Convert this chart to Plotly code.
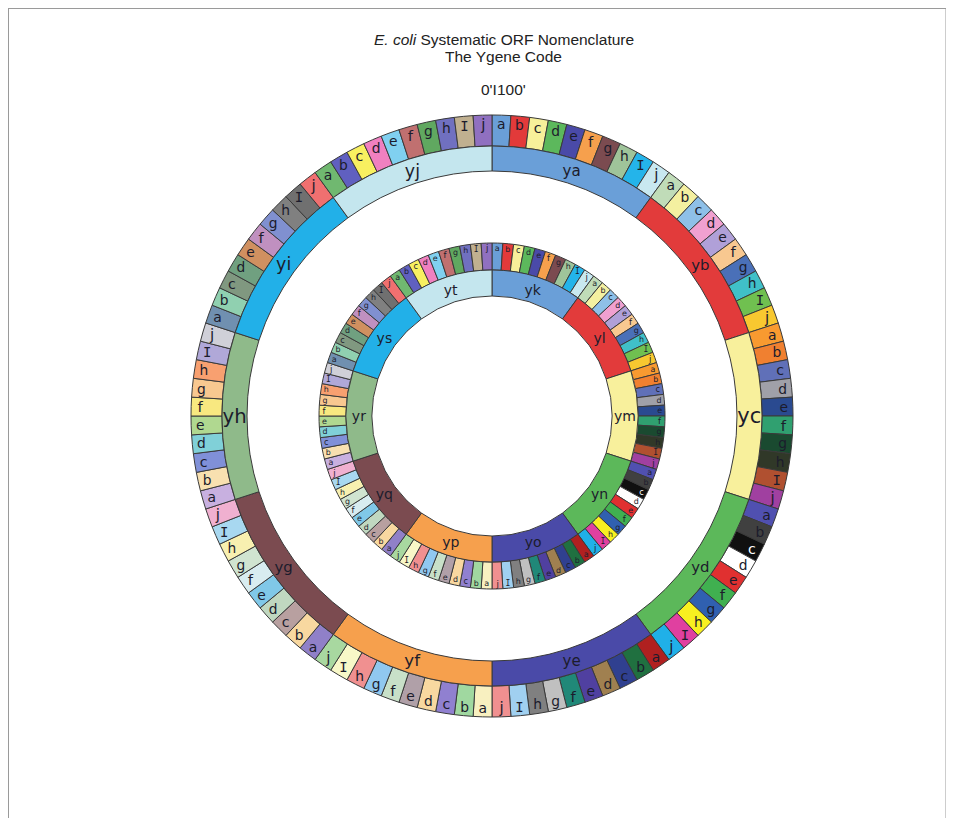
import plotly.graph_objects as go

# ---------------- data ----------------
letters = ["a", "b", "c", "d", "e", "f", "g", "h", "I", "j"]
outer_segments = ["ya", "yb", "yc", "yd", "ye", "yf", "yg", "yh", "yi", "yj"]
inner_segments = ["yk", "yl", "ym", "yn", "yo", "yp", "yq", "yr", "ys", "yt"]

segment_colors = ["#6a9fd8", "#e23b3b", "#f8f09c", "#5cb85a", "#4a4aa8",
                  "#f6a04d", "#7b4b50", "#8fba8a", "#22b0e8", "#c4e6ee"]

colors_a = ["#6a9fd8", "#e23a3a", "#f7f09a", "#5cb85c", "#4a4aa8",
            "#f6a04d", "#7b4b50", "#9fc49a", "#24b4ea", "#c8e8f0"]
colors_b = ["#c0dcb8", "#f4f0a0", "#8ec0e8", "#f0a0d0", "#b0a0d8",
            "#f8c890", "#4a70b8", "#40c0c8", "#70c050", "#f8c830"]
colors_c = ["#f89a30", "#f08030", "#6070b8", "#a0a0a8", "#2a4a90",
            "#30a070", "#1a4a30", "#303828", "#b05030", "#a040a0"]
colors_d = ["#5050b0", "#404040", "#101010", "#ffffff", "#e03030",
            "#40b050", "#3060b0", "#f8f020", "#e040a0", "#20b0e8"]
colors_e = ["#b02020", "#207040", "#304090", "#a08050", "#5040a0",
            "#208878", "#c0c0c0", "#808080", "#a0d0f0", "#f09090"]
colors_f = ["#f8f0c0", "#a0d8a0", "#9080d0", "#f8d8a0", "#b0a0a8",
            "#c8e0c8", "#90c8f0", "#f09090", "#f8f8c8", "#a8d8a0"]
colors_g = ["#9080c8", "#f8d8a0", "#b8a0a0", "#c0d8c0", "#80c8e8",
            "#d8ecf0", "#d0e4d0", "#f8f0b0", "#a8d8f0", "#f0b0d0"]
colors_h = ["#c8b0e0", "#f8e0b0", "#8090d8", "#80d0d8", "#b0d890",
            "#f8e880", "#f8c890", "#f8a070", "#b0a8d8", "#d0d0d8"]
colors_i = ["#7090b0", "#90d0b0", "#809880", "#70a080", "#d09060",
            "#c090c0", "#8090d0", "#808080", "#707070", "#f07070"]
colors_j = ["#70b870", "#6060c0", "#f8f060", "#f080c0", "#80d0f0",
            "#c07070", "#60a860", "#7070c0", "#c0b090", "#9070c0"]

cell_color_groups = [colors_a, colors_b, colors_c, colors_d, colors_e,
                     colors_f, colors_g, colors_h, colors_i, colors_j]

title_line1 = "<i>E. coli</i> Systematic ORF Nomenclature"
title_line2 = "The Ygene Code"
subtitle = "0'I100'"

# ---------------- build ----------------
W, H = 954, 818
OFF = 8                    # page body margin of the html page
CX, CY = 492 - OFF, 416 - OFF   # ring centre inside the figure, px


def domain(radius):
    return dict(x=[(CX - radius) / W, (CX + radius) / W],
                y=[(H - CY - radius) / H, (H - CY + radius) / H])


cell_colors = [c for grp in cell_color_groups for c in grp]
cell_text_colors = ["#ffffff" if c == "#101010" else "#1c1c2c" for c in cell_colors]


def ring(labels, colors, r_out, r_in, size, text_colors=None, name=""):
    n = len(labels)
    fams = ["DejaVu Sans Mono" if t == "I" else "DejaVu Sans" for t in labels]
    tc = text_colors if text_colors else "#1c1c2c"
    return go.Pie(
        values=[1] * n,
        labels=[f"{name}{i}" for i in range(n)],
        text=labels,
        textinfo="text",
        textposition="inside",
        insidetextorientation="horizontal",
        sort=False,
        direction="clockwise",
        rotation=0,
        hole=r_in / r_out,
        domain=domain(r_out),
        marker=dict(colors=colors, line=dict(color="#3a3a3a", width=1)),
        textfont=dict(family=fams, size=size, color=tc),
        insidetextfont=dict(family=fams, size=size, color=tc),
        hoverinfo="none",
        showlegend=False,
    )


outer_cells = [l for _ in outer_segments for l in letters]
inner_cells = [l for _ in inner_segments for l in letters]

fig = go.Figure()
fig.add_trace(ring(outer_cells, cell_colors, 301, 270, 18, cell_text_colors, "oc"))
fig.add_trace(ring(outer_segments, segment_colors, 270, 245, 21, None, "os"))
fig.add_trace(ring(inner_cells, cell_colors, 173, 146, 12, cell_text_colors, "ic"))
fig.add_trace(ring(inner_segments, segment_colors, 146, 120, 14, None, "is"))

TX = 504 - OFF
title_font = dict(family="Liberation Sans", size=15.5, color="#222")
fig.update_layout(
    width=W, height=H,
    margin=dict(l=0, r=0, t=0, b=0),
    paper_bgcolor="white",
    plot_bgcolor="white",
    annotations=[
        dict(text=title_line1, x=TX / W, y=1 - (40 - OFF) / H, xref="paper", yref="paper",
             xanchor="center", yanchor="middle", showarrow=False, font=title_font),
        dict(text=title_line2, x=TX / W, y=1 - (57 - OFF) / H, xref="paper", yref="paper",
             xanchor="center", yanchor="middle", showarrow=False, font=title_font),
        dict(text=subtitle, x=TX / W, y=1 - (89 - OFF) / H, xref="paper", yref="paper",
             xanchor="center", yanchor="middle", showarrow=False, font=title_font),
    ],
    shapes=[
        dict(type="line", xref="paper", yref="paper", x0=0, x1=(946 - OFF) / W,
             y0=1 - 0.5 / H, y1=1 - 0.5 / H, line=dict(color="#9a9a9a", width=1)),
        dict(type="line", xref="paper", yref="paper", x0=0.5 / W, x1=0.5 / W,
             y0=0, y1=1, line=dict(color="#9a9a9a", width=1)),
        dict(type="line", xref="paper", yref="paper", x0=(946 - OFF) / W, x1=(946 - OFF) / W,
             y0=0, y1=1, line=dict(color="#9a9a9a", width=1)),
    ],
)

fig.write_html("out.html")
